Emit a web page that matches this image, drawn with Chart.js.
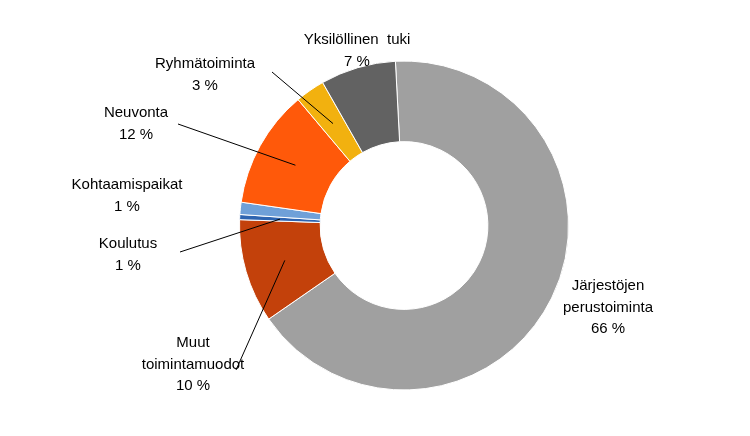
<!DOCTYPE html>
<html><head><meta charset="utf-8">
<script src="https://cdn.jsdelivr.net/npm/chart.js@4"></script>
<style>html,body{margin:0;background:#fff}#w{width:750px;height:436px}</style>
</head><body><div id="w"><canvas id="c"></canvas></div>
<script>
const categories = ["Järjestöjen perustoiminta","Muut toimintamuodot","Koulutus","Kohtaamispaikat","Neuvonta","Ryhmätoiminta","Yksilöllinen tuki"];
const values = [66.2, 10.2, 0.5, 1.2, 11.6, 2.9, 7.4];
const percentLabels = ["66 %","10 %","1 %","1 %","12 %","3 %","7 %"];
const labelLines = [["Järjestöjen","perustoiminta"],["Muut","toimintamuodot"],["Koulutus"],["Kohtaamispaikat"],["Neuvonta"],["Ryhmätoiminta"],["Yksilöllinen  tuki"]];
const colors = ["#a0a0a0","#c3410b","#2e64b0","#6fa0d8","#ff590a","#f2b10f","#626262"];
// label layout: text centre x, first line y, leader start point (or null)
const labelPos = [
  {x:608,y:286,lead:null},
  {x:193,y:343,lead:[236,370]},
  {x:128,y:244,lead:[180,252]},
  {x:127,y:185,lead:null},
  {x:136,y:113,lead:[178,124]},
  {x:205,y:64,lead:[272,72]},
  {x:357,y:40,lead:null}
];
const labelPlugin = {
  id:'lbl',
  afterDatasetsDraw(chart){
    const ctx = chart.ctx, meta = chart.getDatasetMeta(0);
    ctx.save();
    ctx.font = '15px "Liberation Sans", Arial, sans-serif';
    ctx.fillStyle = '#000'; ctx.textAlign='center'; ctx.textBaseline='middle';
    meta.data.forEach((arc,i)=>{
      const p = labelPos[i];
      const lines = labelLines[i].concat([percentLabels[i]]);
      lines.forEach((t,k)=>ctx.fillText(t,p.x,p.y+k*21.5));
      if(p.lead){
        const a=(arc.startAngle+arc.endAngle)/2, r=(arc.innerRadius+arc.outerRadius)/2;
        ctx.beginPath(); ctx.strokeStyle='#000'; ctx.lineWidth=1;
        ctx.moveTo(p.lead[0],p.lead[1]);
        ctx.lineTo(arc.x+Math.cos(a)*r, arc.y+Math.sin(a)*r);
        ctx.stroke();
      }
    });
    ctx.restore();
  }
};
new Chart(document.getElementById('c'),{
  type:'doughnut',
  data:{labels:categories,datasets:[{data:values,backgroundColor:colors,borderColor:'#fff',borderWidth:1}]},
  options:{
    responsive:true,maintainAspectRatio:false,animation:false,
    rotation:-3,cutout:'51%',
    layout:{padding:{left:239,right:181,top:60,bottom:45}},
    plugins:{legend:{display:false},tooltip:{enabled:false}}
  },
  plugins:[labelPlugin]
});
</script></body></html>
